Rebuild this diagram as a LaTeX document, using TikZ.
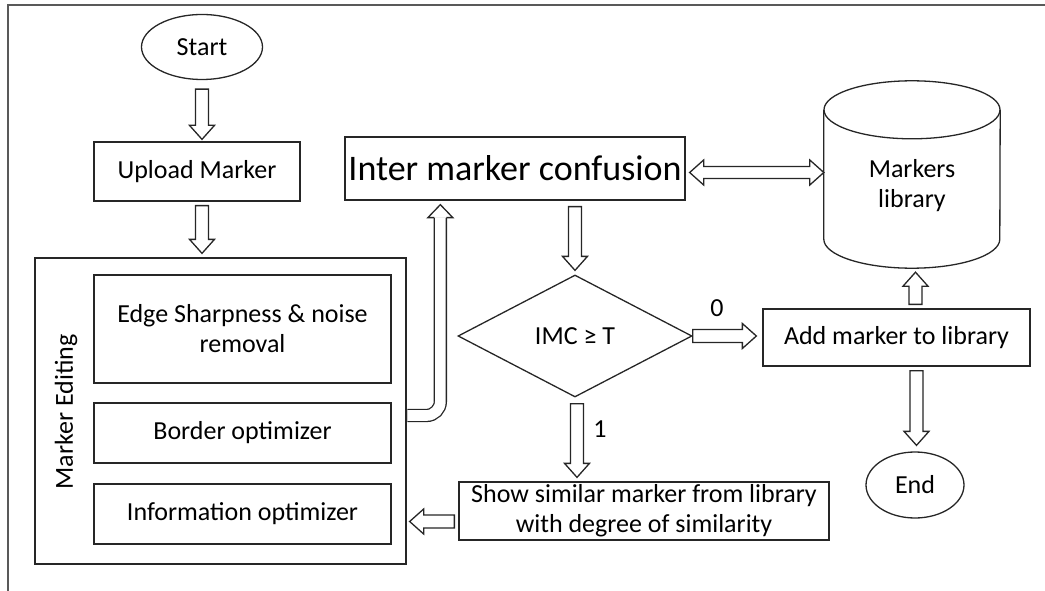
\documentclass[tikz,border=0pt]{standalone}
\usepackage{fontspec}
\setmainfont{Carlito}
\usetikzlibrary{shapes.geometric,calc}

% hollow block arrow from #1 (tail) to #2 (tip)
\newcommand\blockarrow[2]{%
  \coordinate (baS) at #1;
  \coordinate (baT) at #2;
  \coordinate (baH) at ($(baT)!14pt!(baS)$);
  \draw[blk] ($(baS)!6.5pt!90:(baT)$) -- ($(baH)!6.5pt!90:(baT)$)
    -- ($(baH)!12.5pt!90:(baT)$) -- (baT) -- ($(baH)!12.5pt!-90:(baT)$)
    -- ($(baH)!6.5pt!-90:(baT)$) -- ($(baS)!6.5pt!-90:(baT)$) -- cycle;}

% hollow block arrow with heads at both ends #1 and #2
\newcommand\dblockarrow[2]{%
  \coordinate (daA) at #1;
  \coordinate (daB) at #2;
  \coordinate (daHA) at ($(daA)!14pt!(daB)$);
  \coordinate (daHB) at ($(daB)!14pt!(daA)$);
  \draw[blk] (daA) -- ($(daHA)!12.5pt!90:(daB)$) -- ($(daHA)!6pt!90:(daB)$)
    -- ($(daHB)!6pt!-90:(daA)$) -- ($(daHB)!12.5pt!-90:(daA)$) -- (daB)
    -- ($(daHB)!12.5pt!90:(daA)$) -- ($(daHB)!6pt!90:(daA)$)
    -- ($(daHA)!6pt!-90:(daB)$) -- ($(daHA)!12.5pt!-90:(daB)$) -- cycle;}

\begin{document}
\begin{tikzpicture}[x=1pt,y=-1pt,
  box/.style={draw=black!85, line width=1.3pt, rectangle, inner sep=0pt,
    align=center, font=\fontsize{26}{30}\selectfont},
  oval/.style={box, ellipse},
  blk/.style={draw=black!85, line width=1.3pt, fill=white, line join=miter},
  lbl/.style={font=\fontsize{26}{30}\selectfont, inner sep=0pt, align=center}]

\useasboundingbox (0,0) rectangle (1045,591);
\draw[black!65, line width=1.2pt] (1045,5) -- (8,5) -- (8,591);

% nodes
\node[oval, minimum width=121, minimum height=65] (start) at (202,47) {Start};
\node[box, minimum width=206, minimum height=59] (upload) at (197,171.5) {Upload Marker};
\node[box, minimum width=371, minimum height=306] (editing) at (220.5,411) {};
\node[lbl, rotate=90] (edtitle) at (66,412) {Marker Editing};
\node[box, minimum width=297, minimum height=108] (edge) at (242.5,329) {Edge Sharpness \& noise\\removal};
\node[box, minimum width=297, minimum height=60] (border) at (242.5,433) {Border optimizer};
\node[box, minimum width=297, minimum height=60] (info) at (242.5,514) {Information optimizer};
\node[box, minimum width=340, minimum height=63, font=\fontsize{36}{40}\selectfont] (imc) at (515,168.5) {Inter marker confusion};
\node[box, diamond, minimum width=234, minimum height=122] (dec) at (575,336) {IMC ≥ T};
\node[box, minimum width=267, minimum height=57] (add) at (896.5,337.5) {Add marker to library};
\node[box, minimum width=370, minimum height=58] (show) at (644,511) {Show similar marker from library\\with degree of similarity};
\node[oval, minimum width=98, minimum height=66] (end) at (915,485) {End};

% markers library (cylinder)
\node[minimum width=176, minimum height=187, inner sep=0pt] (lib) at (912,174.5) {};
\draw[blk, fill=none] ($(lib.north west)+(0,29)$) -- ($(lib.south west)+(0,-29)$)
  arc[start angle=180, end angle=360, x radius=88pt, y radius=29pt]
  -- ($(lib.north east)+(0,29)$);
\draw[blk, fill=none] ($(lib.north)+(0,29)$) ellipse[x radius=88pt, y radius=29pt];
\node[lbl] (libtxt) at (912,186) {Markers\\library};

% connectors
\blockarrow{($(start.south)+(0,9)$)}{($(start.south |- upload.north)+(0,-2)$)}
\blockarrow{($(start.south |- upload.south)+(0,4)$)}{($(start.south |- editing.north)+(0,-4)$)}
\blockarrow{($(dec.north |- imc.south)+(0,6)$)}{($(dec.north)+(0,-4)$)}
\blockarrow{(dec.east)}{($(dec.east -| add.west)+(-6,0)$)}
\node[lbl] (zero) at (717,308) {0};
\blockarrow{($(dec.south)+(2,6)$)}{($(dec.south |- show.north)+(2,-4)$)}
\node[lbl] (one) at (600,429) {1};
\blockarrow{($(show.west)+(-4,10.5)$)}{($(editing.east |- show.west)+(3,10.5)$)}
\blockarrow{($(lib.south |- add.north)+(3.5,-4)$)}{($(lib.south)+(3.5,4)$)}
\blockarrow{($(add.south)+(20,4)$)}{($(end.north)+(1.5,-6)$)}
\dblockarrow{($(imc.east)+(4,4)$)}{($(lib.west)+(0,-2)$)}

% bent arrow from the editing block up to the confusion check
\coordinate (bS) at ($(editing.east)+(0.7,4.5)$);
\coordinate (bT) at ($(imc.south west)+(96,4)$);
\coordinate (bH) at ($(bT)+(0,13)$);
\coordinate (bC) at (bT |- bS);
\draw[black!85, line width=1.3pt, double=white, double distance=10.7pt, rounded corners=14pt]
  (bS) -- (bC) -- (bH);
\draw[blk] ($(bH)+(-6,0)$) -- ($(bH)+(-12.5,0)$) -- (bT) -- ($(bH)+(12.5,0)$) -- ($(bH)+(6,0)$);

\end{tikzpicture}
\end{document}
